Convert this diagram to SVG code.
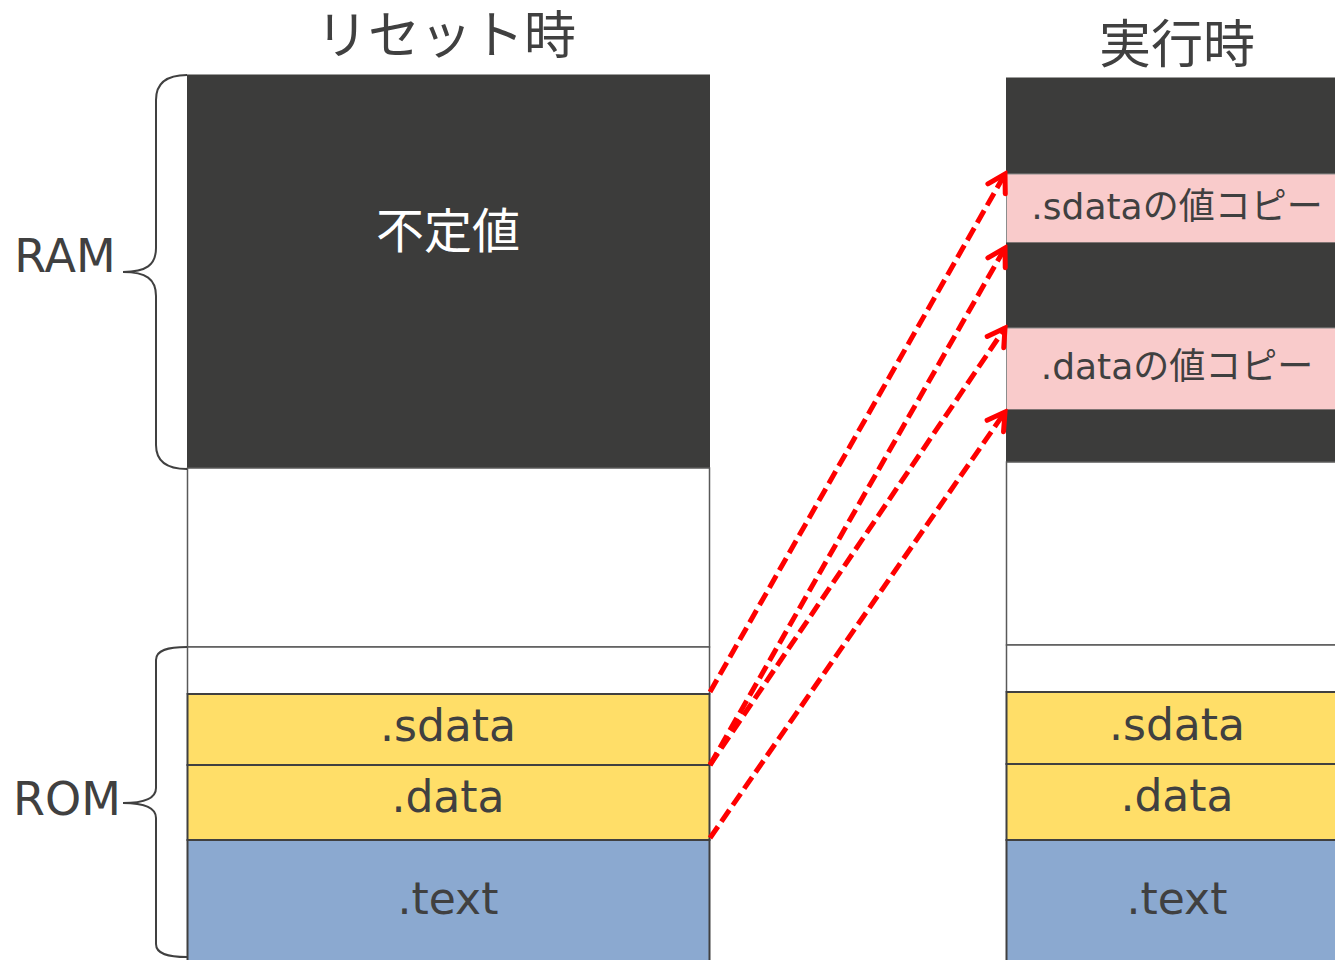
<svg xmlns="http://www.w3.org/2000/svg" width="1335" height="960" viewBox="0 0 1335 960">
<defs>
<style>
.t{font-family:"DejaVu Sans","Noto Sans CJK JP",sans-serif;fill:#404040;text-anchor:middle}
.j{font-family:"Noto Sans CJK JP",sans-serif;fill:#404040;text-anchor:middle}
.dark{fill:#3C3C3B;stroke:#3C3C3B}
.white{fill:#FFFFFF;stroke:#595959;stroke-width:1.5}
.yel{fill:#FFDE68;stroke:#404040;stroke-width:2}
.blue{fill:#8BA9D0;stroke:#404040;stroke-width:2}
.pink{fill:#F9CBCB;stroke:#8C8C8C;stroke-width:1}
.brace{fill:none;stroke:#404040;stroke-width:2}
.arr{fill:none;stroke:#FF0000;stroke-width:5;stroke-dasharray:14 6}
</style>
<marker id="ah" viewBox="-22 -14 26 28" refX="0" refY="0" markerWidth="26" markerHeight="28" markerUnits="userSpaceOnUse" orient="auto">
<path d="M-17,-10 L0,0 L-17,10" fill="none" stroke="#FF0000" stroke-width="5" stroke-linejoin="miter" stroke-linecap="round"/>
</marker>
</defs>
<rect width="1335" height="960" fill="#FFFFFF"/>

<text class="j" x="446" y="54" font-size="52">リセット時</text>
<text class="j" x="1177" y="63" font-size="52">実行時</text>

<g id="left-ram">
<rect class="dark" x="187.5" y="75" width="522" height="393"/>
<text class="j" x="448" y="248" font-size="48" style="fill:#FFFFFF">不定値</text>
</g>
<g id="left-free"><rect class="white" x="187.5" y="468" width="522" height="179"/></g>
<g id="left-rom-free"><rect class="white" x="187.5" y="647" width="522" height="47"/></g>
<g id="left-sdata"><rect class="yel" x="187.5" y="694" width="522" height="71"/><text class="t" x="448" y="741" font-size="44">.sdata</text></g>
<g id="left-data"><rect class="yel" x="187.5" y="765" width="522" height="75"/><text class="t" x="448" y="812" font-size="44">.data</text></g>
<g id="left-text"><rect class="blue" x="187.5" y="840" width="522" height="130"/><text class="t" x="448" y="914" font-size="44">.text</text></g>

<g id="right-ram-top"><rect class="dark" x="1006.5" y="78" width="340" height="96"/></g>
<g id="right-sdata-copy"><rect class="pink" x="1006.5" y="174" width="340" height="69"/><text class="t" x="1177" y="219" font-size="36">.sdataの値コピー</text></g>
<g id="right-ram-mid"><rect class="dark" x="1006.5" y="243" width="340" height="85"/></g>
<g id="right-data-copy"><rect class="pink" x="1006.5" y="328" width="340" height="82"/><text class="t" x="1177" y="379" font-size="36">.dataの値コピー</text></g>
<g id="right-ram-bot"><rect class="dark" x="1006.5" y="410" width="340" height="52"/></g>
<g id="right-free"><rect class="white" x="1006.5" y="462" width="340" height="183"/></g>
<g id="right-rom-free"><rect class="white" x="1006.5" y="645" width="340" height="47"/></g>
<g id="right-sdata"><rect class="yel" x="1006.5" y="692" width="340" height="72"/><text class="t" x="1177" y="740" font-size="44">.sdata</text></g>
<g id="right-data"><rect class="yel" x="1006.5" y="764" width="340" height="76"/><text class="t" x="1177" y="811" font-size="44">.data</text></g>
<g id="right-text"><rect class="blue" x="1006.5" y="840" width="340" height="130"/><text class="t" x="1177" y="914" font-size="44">.text</text></g>

<g id="ram-label">
<path class="brace" d="M187,75 C168,75 156,82 156,100 L156,248 C156,265 146,272 123,272 C146,272 156,279 156,296 L156,445 C156,462 168,469 187,469"/>
<text class="t" x="65" y="272" font-size="46">RAM</text>
</g>
<g id="rom-label">
<path class="brace" d="M187,647 C168,647 156,650 156,660 L156,788 C156,798 146,803 123,803 C146,803 156,808 156,818 L156,944 C156,954 168,957 187,957"/>
<text class="t" x="67" y="815" font-size="46">ROM</text>
</g>

<g id="connectors">
<path class="arr" d="M710,692 L1005,174" marker-end="url(#ah)"/>
<path class="arr" d="M710,765 L1005,248" marker-end="url(#ah)"/>
<path class="arr" d="M710,765 L1005,328" marker-end="url(#ah)"/>
<path class="arr" d="M710,838 L1005,412" marker-end="url(#ah)"/>
</g>
</svg>
